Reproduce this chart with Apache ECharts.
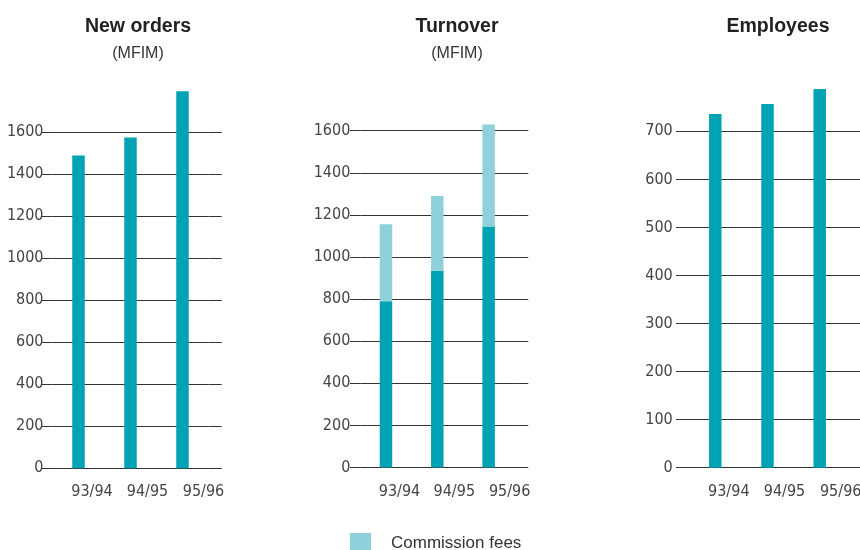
<!DOCTYPE html>
<html>
<head>
<meta charset="utf-8">
<script src="https://cdn.jsdelivr.net/npm/echarts@6/dist/echarts.min.js"></script>
<style>
  html, body { margin: 0; padding: 0; background: #fff; }
  #main { width: 860px; height: 550px; }
</style>
</head>
<body>
<div id="main"></div>
<script>
const years = ["93/94", "94/95", "95/96"];
const newOrders = [1490, 1575, 1795];
const turnoverBase = [790, 935, 1145];
const commissionFees = [365, 355, 485];
const employees = [736, 757, 788];

const dark = "#00a3b3";
const light = "#8fd1db";
const lineColor = "#333";
const labelFont = "'DejaVu Sans Condensed', 'Liberation Sans Narrow', sans-serif";
const labelSize = 16;

const chartDom = document.getElementById("main");
const myChart = echarts.init(chartDom);

// x labels sit a little right of the bars, more so for later years
const richLabel = (left) => ({ padding: [0, 0, 0, left], fontFamily: labelFont, fontSize: labelSize, color: "#444" });
const xLabel = {
  interval: 0,
  margin: 16,
  color: "#444",
  fontFamily: labelFont,
  fontSize: labelSize,
  formatter: (v, i) => `{c${i}|${v}}`,
  rich: { c0: richLabel(27), c1: richLabel(34), c2: richLabel(42) },
};

function xAxisFor(gridIndex) {
  return {
    type: "category",
    gridIndex,
    data: years,
    axisLine: { show: false },
    axisTick: { show: false },
    axisLabel: xLabel,
  };
}

function yAxesFor(gridIndex, max, interval, leftTick, rightTick, labelMargin) {
  return [
    {
      type: "value",
      gridIndex,
      min: 0,
      max,
      interval,
      axisLine: { show: false },
      axisTick: { show: true, inside: false, length: leftTick, lineStyle: { color: lineColor } },
      axisLabel: {
        margin: labelMargin,
        color: "#444",
        fontFamily: labelFont,
        fontSize: labelSize,
        formatter: (v) => String(v),
      },
      splitLine: { show: true, lineStyle: { color: lineColor, width: 1 } },
    },
    {
      type: "value",
      gridIndex,
      position: "right",
      min: 0,
      max,
      interval,
      axisLine: { show: false },
      axisTick: { show: true, inside: false, length: rightTick, lineStyle: { color: lineColor } },
      axisLabel: { show: false },
      splitLine: { show: false },
    },
  ];
}

const titleStyle = { fontFamily: "'Liberation Sans', Arial, sans-serif", fontSize: 19.5, fontWeight: "bold", color: "#222" };
const subStyle = { fontFamily: "'Liberation Sans', Arial, sans-serif", fontSize: 16, color: "#333" };

const option = {
  animation: false,
  title: [
    { text: "New orders", subtext: "(MFIM)", left: 133, top: 12, textAlign: "center", itemGap: 9, textStyle: titleStyle, subtextStyle: subStyle },
    { text: "Turnover", subtext: "(MFIM)", left: 452, top: 12, textAlign: "center", itemGap: 9, textStyle: titleStyle, subtextStyle: subStyle },
    { text: "Employees", left: 773, top: 12, textAlign: "center", textStyle: titleStyle },
  ],
  legend: {
    data: ["Commission fees"],
    left: 350,
    top: 533,
    padding: 0,
    itemWidth: 21,
    itemHeight: 21,
    icon: "rect",
    textStyle: { fontFamily: "'Liberation Sans', Arial, sans-serif", fontSize: 17, color: "#333", padding: [0, 0, 0, 15] },
  },
  grid: [
    { left: 52.5, width: 156, top: 132.3, height: 336, outerBoundsMode: "none" },
    { left: 360.3, width: 154, top: 130.7, height: 336.8, outerBoundsMode: "none" },
    { left: 689.2, width: 156.6, top: 131.3, height: 336.4, outerBoundsMode: "none" },
  ],
  xAxis: [xAxisFor(0), xAxisFor(1), xAxisFor(2)],
  yAxis: [
    ...yAxesFor(0, 1600, 200, 11.5, 13.2, 9),
    ...yAxesFor(1, 1600, 200, 10.3, 14, 10),
    ...yAxesFor(2, 700, 100, 13.2, 16, 16.5),
  ],
  series: [
    {
      name: "New orders",
      type: "bar",
      xAxisIndex: 0,
      yAxisIndex: 0,
      data: newOrders,
      barWidth: 12.5,
      clip: false,
      itemStyle: { color: dark },
    },
    {
      name: "Turnover",
      type: "bar",
      xAxisIndex: 1,
      yAxisIndex: 2,
      stack: "turnover",
      data: turnoverBase,
      barWidth: 12.5,
      clip: false,
      itemStyle: { color: dark },
    },
    {
      name: "Commission fees",
      type: "bar",
      xAxisIndex: 1,
      yAxisIndex: 2,
      stack: "turnover",
      data: commissionFees,
      barWidth: 12.5,
      clip: false,
      itemStyle: { color: light },
    },
    {
      name: "Employees",
      type: "bar",
      xAxisIndex: 2,
      yAxisIndex: 4,
      data: employees,
      barWidth: 12.5,
      clip: false,
      itemStyle: { color: dark },
    },
  ],
};

option && myChart.setOption(option);
</script>
</body>
</html>
